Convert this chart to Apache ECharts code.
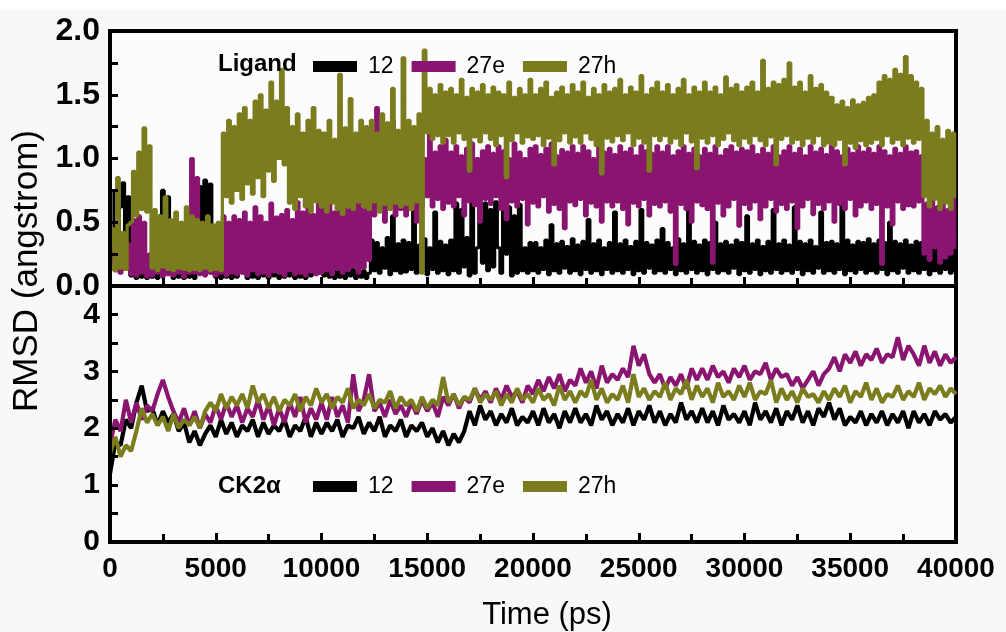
<!DOCTYPE html>
<html>
<head>
<meta charset="utf-8">
<script src="https://cdn.jsdelivr.net/npm/echarts@6/dist/echarts.min.js"></script>
<style>
  html, body { margin: 0; padding: 0; background: #f8f8f8; }
  #chart { width: 1006px; height: 632px; }
</style>
</head>
<body>
<div id="chart"></div>
<script>
// sampling step (ps) of the values below
const stepLigand = 125;
const stepProtein = 250;
const seriesNames = ['12', '27e', '27h'];
const seriesColors = ['#000000', '#8a1570', '#7a7c1e'];

// Ligand RMSD (angstrom), one row = 2000 ps
const ligand12 = [
  .10,.28,.74,.12,.62,.81,.15,.70,.08,.13,.06,.11,.07,.12,.06,.10,
  .07,.12,.06,.55,.75,.20,.70,.10,.06,.12,.07,.14,.06,.11,.07,.13,
  .06,.12,.78,.45,.83,.50,.80,.10,.07,.13,.06,.11,.07,.13,.06,.12,
  .07,.14,.50,.10,.06,.13,.07,.12,.06,.15,.08,.13,.06,.12,.08,.14,
  .06,.12,.07,.18,.08,.13,.06,.11,.07,.14,.06,.12,.08,.15,.22,.10,
  .28,.08,.25,.07,.13,.06,.12,.07,.14,.06,.12,.08,.13,.06,.11,.07,
  .12,.06,.10,.36,.12,.34,.10,.30,.14,.38,.09,.55,.12,.33,.10,.36,
  .11,.34,.13,.62,.10,.32,.12,.37,.09,.30,.13,.58,.10,.35,.12,.32,
  .09,.36,.12,.65,.10,.60,.15,.38,.08,.66,.10,.30,.62,.18,.65,.12,
  .60,.15,.66,.30,.10,.60,.25,.62,.08,.55,.10,.64,.12,.30,.10,.34,
  .12,.34,.10,.30,.13,.36,.09,.48,.12,.33,.10,.35,.14,.31,.10,.37,
  .12,.32,.09,.35,.13,.52,.10,.33,.12,.36,.09,.30,.13,.34,.10,.58,
  .12,.33,.10,.36,.13,.31,.09,.35,.12,.60,.10,.34,.14,.32,.10,.36,
  .12,.45,.10,.34,.13,.30,.09,.37,.12,.33,.10,.62,.13,.35,.10,.32,
  .12,.36,.09,.34,.13,.50,.10,.33,.12,.35,.10,.32,.14,.36,.09,.34,
  .12,.55,.10,.33,.13,.36,.09,.31,.12,.35,.10,.60,.13,.33,.10,.36,
  .12,.32,.10,.62,.13,.35,.09,.33,.12,.36,.10,.31,.14,.58,.10,.34,
  .12,.35,.10,.33,.13,.65,.09,.36,.12,.32,.10,.35,.13,.34,.10,.37,
  .12,.33,.10,.36,.13,.34,.09,.50,.12,.35,.10,.33,.14,.36,.10,.32,
  .12,.35,.10,.34,.13,.36,.09,.33,.12,.35,.10,.34,.13,.36,.10,.33,
  .12
];
const ligand27e = [
  .10,.30,.12,.35,.10,.28,.13,.33,.09,.52,.08,.55,.10,.50,.07,.25,
  .08,.25,.10,.30,.07,.22,.09,.28,.08,.30,.10,.26,.07,.29,.10,1.00,
  .10,.85,.09,.30,.08,.28,.10,.32,.07,.27,.10,.55,.08,.50,.10,.55,
  .09,.52,.10,.58,.08,.50,.12,.62,.09,.55,.10,.50,.08,.65,.11,.54,
  .10,.56,.08,.60,.12,.52,.09,.66,.10,.58,.08,.62,.11,.56,.09,.70,
  .10,.60,.12,.65,.09,.58,.13,.62,.10,.68,.12,.60,.15,.72,.10,.64,
  .14,.60,.20,1.10,.55,1.40,.60,1.25,.50,1.10,.62,1.30,.55,1.05,.60,1.15,
  .55,1.10,.60,1.05,.50,1.15,.62,1.00,.70,1.20,.62,1.05,.68,1.10,.60,1.15,
  .65,1.05,.62,1.10,.70,1.02,.55,1.08,.66,1.12,.63,1.00,.50,1.06,.68,1.10,
  .64,1.04,.70,1.10,.60,1.06,.52,1.00,.66,1.12,.62,1.05,.68,1.00,.48,1.08,
  .65,1.10,.62,1.03,.70,1.08,.58,1.12,.64,1.02,.60,1.07,.45,1.05,.66,1.10,
  .63,1.04,.68,1.10,.55,1.06,.65,1.00,.62,1.12,.50,1.05,.66,1.08,.62,1.03,
  .66,1.10,.60,1.05,.48,1.08,.65,1.02,.62,1.10,.68,1.06,.55,1.04,.64,1.10,
  .62,1.05,.66,1.10,.58,1.02,.17,1.06,.64,1.10,.60,1.04,.50,1.08,.66,1.02,
  .63,1.08,.60,1.04,.18,1.10,.65,1.02,.55,1.07,.62,1.10,.68,1.05,.47,1.08,
  .64,1.06,.60,1.10,.66,1.03,.52,1.08,.62,1.04,.68,1.10,.58,1.02,.64,1.06,
  .60,1.10,.66,1.04,.45,1.08,.62,1.02,.68,1.10,.56,1.05,.64,1.08,.60,1.03,
  .66,1.10,.50,1.06,.64,1.02,.60,1.08,.68,1.04,.55,1.10,.62,1.05,.66,1.08,
  .60,1.04,.64,1.10,.17,1.06,.62,1.02,.48,1.08,.66,1.04,.60,1.10,.63,1.05,
  .62,1.06,.66,1.02,.25,.65,.20,.70,.30,.62,.18,.68,.22,.60,.25,.70,
  .30
];
const ligand27h = [
  .15,.45,.12,.85,.14,.42,.13,.48,.50,.90,.55,1.05,.60,1.24,.58,1.10,
  .14,.60,.12,.55,.15,.70,.13,.52,.12,.58,.14,.50,.13,.62,.12,.55,
  .13,.52,.12,.50,.14,.55,.12,.48,.13,.50,.12,1.20,.70,1.30,.65,1.25,
  .75,1.35,.68,1.40,.80,1.30,.72,1.45,.85,1.50,.70,1.38,.90,1.60,.82,1.45,
  1.00,1.70,.95,1.40,.65,1.25,.60,1.35,.70,1.20,.62,1.30,.58,1.40,.66,1.22,
  .62,1.20,.58,1.30,.65,1.15,.60,1.66,.56,1.24,.62,1.47,.60,1.20,.66,1.30,
  .62,1.25,.60,1.30,.66,1.20,.58,1.35,.64,1.28,.60,1.55,.65,1.22,.62,1.79,
  .64,1.30,.60,1.25,.66,1.35,.10,1.85,1.20,1.55,1.15,1.50,1.18,1.58,1.12,1.52,
  1.18,1.55,1.12,1.50,1.20,1.62,1.15,1.48,.90,1.55,1.17,1.52,1.13,1.58,1.20,1.50,
  1.15,1.56,1.10,1.52,1.18,1.50,.85,1.60,1.14,1.48,1.20,1.55,1.12,1.50,1.17,1.62,
  1.15,1.50,1.18,1.55,1.10,1.60,1.16,1.48,.95,1.52,1.14,1.56,1.20,1.50,1.12,1.58,
  1.17,1.52,1.12,1.60,1.20,1.48,1.15,1.55,1.10,1.50,.88,1.58,1.16,1.52,1.13,1.55,
  1.18,1.62,1.14,1.50,1.20,1.56,1.10,1.52,1.16,1.65,1.12,1.50,.90,1.55,1.18,1.60,
  1.14,1.52,1.18,1.58,1.12,1.50,1.16,1.55,1.10,1.62,1.20,1.50,1.13,1.56,.92,1.52,
  1.16,1.60,1.12,1.52,1.18,1.56,1.10,1.50,1.15,1.64,1.20,1.55,1.14,1.58,1.10,1.52,
  1.16,1.56,1.12,1.60,1.18,1.52,1.14,1.77,1.10,1.55,1.17,1.60,.95,1.58,1.15,1.62,
  1.18,1.75,1.12,1.56,1.15,1.60,1.10,1.52,1.16,1.65,1.12,1.55,1.18,1.58,1.10,1.52,
  1.12,1.48,1.10,1.42,1.15,1.45,.95,1.40,1.12,1.46,1.08,1.42,1.14,1.44,1.10,1.48,
  1.12,1.50,1.15,1.60,1.10,1.65,1.18,1.62,1.12,1.70,1.15,1.66,1.10,1.80,1.16,1.65,
  1.12,1.60,1.15,1.55,.70,1.30,.62,1.20,.68,1.25,.60,1.15,.65,1.22,.60,1.20,
  .70
];

// CK2alpha RMSD (angstrom), one row = 2000 ps
const protein12 = [
  1.20,1.75,1.70,2.15,2.00,2.45,2.75,2.30,
  2.35,2.05,2.30,2.10,2.25,1.95,2.10,1.75,
  1.95,1.70,1.90,2.05,1.85,2.15,1.90,2.10,
  1.85,2.05,1.95,2.15,1.85,2.10,1.90,2.05,
  1.95,2.15,1.85,2.05,1.95,2.20,1.85,2.10,
  1.90,2.10,1.95,2.15,1.85,2.05,2.00,2.20,
  1.90,2.10,1.95,2.20,1.85,2.05,1.95,2.15,
  1.85,2.05,1.95,2.10,1.85,2.00,1.75,1.95,
  1.70,1.90,1.75,1.95,2.30,2.05,2.40,2.15,
  2.30,2.05,2.25,2.10,2.35,2.05,2.20,2.10,
  2.30,2.05,2.35,2.10,2.25,2.00,2.30,2.10,
  2.35,2.10,2.25,2.05,2.40,2.15,2.30,2.05,
  2.25,2.10,2.35,2.05,2.30,2.15,2.40,2.10,
  2.30,2.05,2.25,2.10,2.45,2.15,2.30,2.10,
  2.35,2.10,2.30,2.05,2.40,2.15,2.25,2.10,
  2.30,2.05,2.45,2.15,2.30,2.10,2.35,2.05,
  2.30,2.15,2.40,2.10,2.30,2.05,2.35,2.20,
  2.45,2.15,2.35,2.05,2.20,2.10,2.30,2.05,
  2.25,2.10,2.30,2.05,2.25,2.10,2.30,2.00,
  2.30,2.10,2.25,2.05,2.30,2.15,2.25,2.10,
  2.20
];
const protein27e = [
  1.70,2.15,1.95,2.50,2.10,2.45,2.15,2.40,
  2.30,2.60,2.85,2.55,2.30,2.10,2.35,2.05,
  2.30,2.00,2.25,2.10,2.40,2.15,2.45,2.20,
  2.40,2.10,2.35,2.20,2.50,2.15,2.40,2.05,
  2.35,2.10,2.45,2.20,2.55,2.10,2.35,2.15,
  2.45,2.15,2.55,2.20,2.40,2.10,2.95,2.30,
  2.50,2.95,2.30,2.45,2.20,2.50,2.25,2.40,
  2.20,2.45,2.25,2.50,2.30,2.45,2.20,2.55,
  2.40,2.60,2.35,2.55,2.45,2.70,2.50,2.65,
  2.45,2.70,2.50,2.75,2.55,2.65,2.45,2.75,
  2.60,2.85,2.65,2.90,2.70,2.95,2.65,2.85,
  2.75,3.05,2.80,3.00,2.70,3.10,2.80,2.95,
  2.85,3.05,2.90,3.45,3.10,3.30,2.95,2.80,
  2.95,2.70,2.90,2.75,2.95,2.70,3.05,2.85,
  3.05,2.85,3.10,2.90,3.00,2.80,3.05,2.90,
  3.10,2.85,3.00,2.95,3.15,2.85,3.05,2.90,
  2.95,2.75,2.90,2.70,2.85,3.00,2.75,2.95,
  3.05,3.25,3.00,3.30,3.15,3.35,3.10,3.30,
  3.20,3.40,3.15,3.30,3.25,3.60,3.20,3.45,
  3.30,3.10,3.45,3.15,3.35,3.10,3.30,3.15,
  3.25
];
const protein27h = [
  1.55,1.85,1.50,1.70,1.60,1.95,2.35,2.10,
  2.25,2.05,2.20,1.95,2.25,2.00,2.15,2.05,
  2.20,2.00,2.30,2.45,2.30,2.60,2.35,2.55,
  2.40,2.60,2.35,2.75,2.45,2.60,2.35,2.55,
  2.30,2.50,2.40,2.60,2.30,2.55,2.40,2.70,
  2.45,2.60,2.35,2.55,2.45,2.70,2.35,2.50,
  2.40,2.60,2.35,2.50,2.45,2.65,2.35,2.55,
  2.40,2.50,2.30,2.55,2.35,2.50,2.40,2.90,
  2.45,2.60,2.40,2.55,2.50,2.70,2.45,2.60,
  2.50,2.65,2.40,2.60,2.45,2.70,2.50,2.60,
  2.45,2.70,2.50,2.60,2.40,2.75,2.50,2.65,
  2.45,2.65,2.55,2.85,2.50,2.70,2.45,2.60,
  2.50,2.75,2.45,2.95,2.55,2.70,2.50,2.65,
  2.55,2.80,2.50,2.70,2.60,2.85,2.50,2.75,
  2.55,2.70,2.45,2.80,2.55,2.65,2.50,2.75,
  2.55,2.80,2.50,2.65,2.60,2.85,2.45,2.70,
  2.50,2.65,2.45,2.70,2.55,2.60,2.45,2.65,
  2.50,2.70,2.55,2.75,2.45,2.65,2.55,2.80,
  2.50,2.70,2.45,2.60,2.55,2.75,2.50,2.65,
  2.55,2.80,2.50,2.70,2.60,2.75,2.55,2.70,
  2.60
];

function toPairs(vals, step) {
  return vals.map((v, i) => [i * step, v]);
}

const chart = echarts.init(document.getElementById('chart'));
const fontFamily = '"Liberation Sans", Arial, sans-serif';

const axisLineStyle = { show: true, lineStyle: { color: '#000', width: 4 } };
const xTick = { show: true, inside: true, length: 9, lineStyle: { color: '#000', width: 3 } };
const xMinor = { show: true, splitNumber: 2, length: 8, lineStyle: { color: '#000', width: 3 } };

function makeSeries(name, color, vals, step, idx, width, stepped) {
  return {
    name: name,
    type: 'line',
    xAxisIndex: idx,
    yAxisIndex: idx,
    data: toPairs(vals, step),
    step: stepped ? 'middle' : false,
    showSymbol: false,
    symbol: 'none',
    sampling: null,
    silent: true,
    color: color,
    lineStyle: { color: color, width: width },
    z: 2
  };
}

const option = {
  backgroundColor: '#f8f8f8',
  animation: false,
  textStyle: { fontFamily: fontFamily },
  graphic: [
    { type: 'rect', shape: { x: 0, y: 0, width: 1006, height: 10 }, style: { fill: '#ffffff' }, silent: true, z: -10 },
    {
      type: 'text', x: 27, y: 271, rotation: Math.PI / 2,
      style: {
        text: 'RMSD (angstrom)', font: '35px ' + fontFamily,
        fill: '#000', textAlign: 'center', textVerticalAlign: 'middle'
      }
    },
    {
      type: 'text', x: 547, y: 615,
      style: {
        text: 'Time (ps)', font: '31px ' + fontFamily,
        fill: '#000', textAlign: 'center', textVerticalAlign: 'middle'
      }
    }
  ],
  title: [
    { text: 'Ligand', left: 213, top: 47, textStyle: { fontSize: 24, fontWeight: 'bold', color: '#000', fontFamily: fontFamily } },
    { text: 'CK2α', left: 213, top: 469, textStyle: { fontSize: 24, fontWeight: 'bold', color: '#000', fontFamily: fontFamily } }
  ],
  legend: [
    {
      data: seriesNames, left: 308, top: 50, icon: 'rect', itemWidth: 44, itemHeight: 11, itemGap: 18,
      selectedMode: false,
      textStyle: { fontSize: 23, color: '#000', fontFamily: fontFamily, padding: [0, 0, 0, 6] }
    },
    {
      data: seriesNames, left: 308, top: 470, icon: 'rect', itemWidth: 44, itemHeight: 11, itemGap: 18,
      selectedMode: false,
      textStyle: { fontSize: 23, color: '#000', fontFamily: fontFamily, padding: [0, 0, 0, 6] }
    }
  ],
  grid: [
    { left: 110, top: 31, width: 846, height: 255, show: true, borderColor: '#000', borderWidth: 4, backgroundColor: '#fcfcfc' },
    { left: 110, top: 286, width: 846, height: 256, show: true, borderColor: '#000', borderWidth: 4, backgroundColor: '#fcfcfc' }
  ],
  xAxis: [
    {
      gridIndex: 0, type: 'value', min: 0, max: 40000, interval: 5000,
      axisLine: axisLineStyle, axisTick: xTick, minorTick: xMinor,
      axisLabel: { show: false }, splitLine: { show: false }, z: 5
    },
    {
      gridIndex: 1, type: 'value', min: 0, max: 40000, interval: 5000,
      axisLine: axisLineStyle, axisTick: xTick, minorTick: xMinor,
      axisLabel: { fontSize: 28, fontWeight: 'bold', color: '#000', margin: 13, fontFamily: fontFamily, formatter: v => String(v) },
      splitLine: { show: false }, z: 5
    }
  ],
  yAxis: [
    {
      gridIndex: 0, type: 'value', min: 0, max: 2, interval: 0.5,
      axisLine: axisLineStyle,
      axisTick: { show: true, inside: true, length: 8, lineStyle: { color: '#000', width: 3 } },
      minorTick: { show: true, splitNumber: 2, length: 8, lineStyle: { color: '#000', width: 3 } },
      axisLabel: { fontSize: 32, fontWeight: 'bold', color: '#000', margin: 10, fontFamily: fontFamily, formatter: v => v.toFixed(1) },
      splitLine: { show: false }, z: 5
    },
    {
      gridIndex: 1, type: 'value', min: 0, max: 4.5, interval: 1,
      axisLine: axisLineStyle,
      axisTick: { show: true, inside: true, length: 8, lineStyle: { color: '#000', width: 3 } },
      minorTick: { show: true, splitNumber: 2, length: 8, lineStyle: { color: '#000', width: 3 } },
      axisLabel: { fontSize: 30, fontWeight: 'bold', color: '#000', margin: 10, fontFamily: fontFamily, showMaxLabel: false,
        formatter: v => (v === 4.5 ? '' : String(v)) },
      splitLine: { show: false }, z: 5
    }
  ],
  series: [
    makeSeries(seriesNames[0], seriesColors[0], ligand12, stepLigand, 0, 3.2, true),
    makeSeries(seriesNames[1], seriesColors[1], ligand27e, stepLigand, 0, 3.2, true),
    makeSeries(seriesNames[2], seriesColors[2], ligand27h, stepLigand, 0, 3.2, true),
    makeSeries(seriesNames[0], seriesColors[0], protein12, stepProtein, 1, 4.2, false),
    makeSeries(seriesNames[1], seriesColors[1], protein27e, stepProtein, 1, 4.2, false),
    makeSeries(seriesNames[2], seriesColors[2], protein27h, stepProtein, 1, 4.2, false)
  ]
};

chart.setOption(option);
</script>
</body>
</html>
